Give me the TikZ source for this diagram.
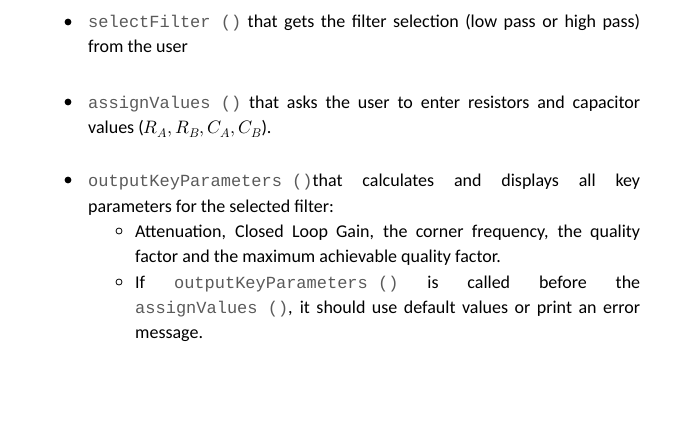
\documentclass[tikz,border=0pt]{standalone}
\usepackage{fontspec}
\setmainfont{Carlito}
\setmonofont{Liberation Mono}
\usepackage{unicode-math}
\begin{document}
\begin{tikzpicture}[x=1pt,y=-1pt,
  ln/.style={anchor=base west,inner sep=0pt,font=\fontsize{18}{20}\selectfont}]
\useasboundingbox (0,0) rectangle (700,433);
\newcommand{\cd}[1]{{\color[HTML]{5A5A5A}\fontsize{17}{20}\ttfamily #1}}
\newcommand{\jl}[2]{\makebox[#1pt][s]{#2}}
% bullets
\foreach \yy/\nm in {22/b1,102/b2,180/b3} \fill (68,\yy) circle (3.4);
\foreach \yy/\nm in {231/c1,282/c2} \draw[line width=0.8pt] (119,\yy) circle (3);
\node[ln] (l1) at (88,28) {\jl{552}{\cd{selectFilter~()} that gets the filter selection (low pass or high pass)}};
\node[ln] (l2) at (88,53) {from the user};
\node[ln] (l3) at (88,108) {\jl{552}{\cd{assignValues~()} that asks the user to enter resistors and capacitor}};
\node[ln] (l4) at (88,133) {values ($R_A,R_B,C_A,C_B$).};
\node[ln] (l5) at (88,186) {\jl{552}{\cd{outputKeyParameters~()}that calculates and displays all key}};
\node[ln] (l6) at (88,212) {parameters for the selected filter:};
\node[ln] (l7) at (135,237) {\jl{505}{Attenuation, Closed Loop Gain, the corner frequency, the quality}};
\node[ln] (l8) at (135,262) {factor and the maximum achievable quality factor.};
\node[ln] (l9) at (135,288) {\jl{505}{If \cd{outputKeyParameters~()} is called before the}};
\node[ln] (l10) at (135,313) {\jl{505}{\cd{assignValues~()}, it should use default values or print an error}};
\node[ln] (l11) at (135,338) {message.};
\end{tikzpicture}
\end{document}
